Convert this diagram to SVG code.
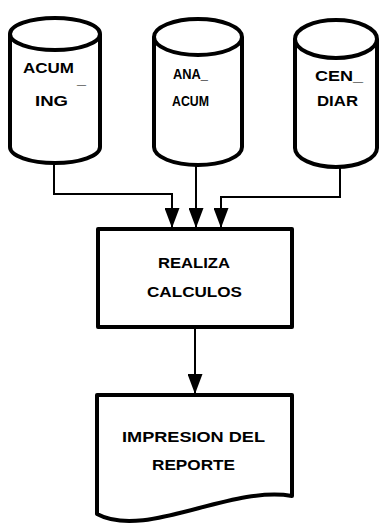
<svg xmlns="http://www.w3.org/2000/svg" width="380" height="525" viewBox="0 0 380 525">
<style>
.shape{fill:#fff;stroke:#000;stroke-width:4;stroke-linejoin:round}
.conn{fill:none;stroke:#000;stroke-width:2}
.t{font-family:"Liberation Sans",Arial,sans-serif;font-weight:bold;font-size:14px;fill:#000}
.tb{font-family:"Liberation Sans",Arial,sans-serif;font-weight:bold;font-size:15px;fill:#000}
</style>
<defs>
<marker id="arr" viewBox="0 0 20 15" refX="20" refY="7.5" markerWidth="20" markerHeight="15" markerUnits="userSpaceOnUse" orient="auto">
<path d="M0,0 L20,7.5 L0,15 Z" fill="#000"/>
</marker>
</defs>
<rect width="380" height="525" fill="#fff"/>
<g id="acum_ing">
<path class="shape" d="M10,34 V147 A45,16 0 0 0 100,147 V34"/>
<ellipse class="shape" cx="55" cy="34" rx="45" ry="16"/>
<text class="t" x="23" y="73" textLength="51" lengthAdjust="spacingAndGlyphs">ACUM</text>
<text class="t" x="77" y="84" textLength="9" lengthAdjust="spacingAndGlyphs">_</text>
<text class="t" x="35" y="106" textLength="33" lengthAdjust="spacingAndGlyphs">ING</text>
</g>
<g id="ana_acum">
<path class="shape" d="M154,37 V147 A44,18 0 0 0 242,147 V37"/>
<ellipse class="shape" cx="198" cy="37" rx="44" ry="18"/>
<text class="t" x="173" y="79" textLength="35" lengthAdjust="spacingAndGlyphs">ANA_</text>
<text class="t" x="172" y="106" textLength="37" lengthAdjust="spacingAndGlyphs">ACUM</text>
</g>
<g id="cen_diar">
<path class="shape" d="M295,39 V148 A41,19 0 0 0 377,148 V39"/>
<ellipse class="shape" cx="336" cy="39" rx="41" ry="19"/>
<text class="t" x="315" y="81" textLength="48" lengthAdjust="spacingAndGlyphs">CEN_</text>
<text class="t" x="317" y="106" textLength="41" lengthAdjust="spacingAndGlyphs">DIAR</text>
</g>
<g id="realiza_calculos">
<rect class="shape" x="98" y="229" width="194" height="98"/>
<text class="tb" x="158" y="268" textLength="72" lengthAdjust="spacingAndGlyphs">REALIZA</text>
<text class="tb" x="147" y="297" textLength="95" lengthAdjust="spacingAndGlyphs">CALCULOS</text>
</g>
<g id="impresion_reporte">
<path class="shape" d="M97,395 H292 V496 C230,485 145,540 97,514 Z"/>
<text class="tb" x="122" y="442" textLength="143" lengthAdjust="spacingAndGlyphs">IMPRESION DEL</text>
<text class="tb" x="152" y="470" textLength="83" lengthAdjust="spacingAndGlyphs">REPORTE</text>
</g>
<g id="connectors">
<polyline class="conn" points="54,163 54,194 172,194 172,228" marker-end="url(#arr)"/>
<polyline class="conn" points="196,165 196,228" marker-end="url(#arr)"/>
<polyline class="conn" points="340,167 340,197 221,197 221,228" marker-end="url(#arr)"/>
<polyline class="conn" points="195,328 195,394" marker-end="url(#arr)"/>
</g>
</svg>
